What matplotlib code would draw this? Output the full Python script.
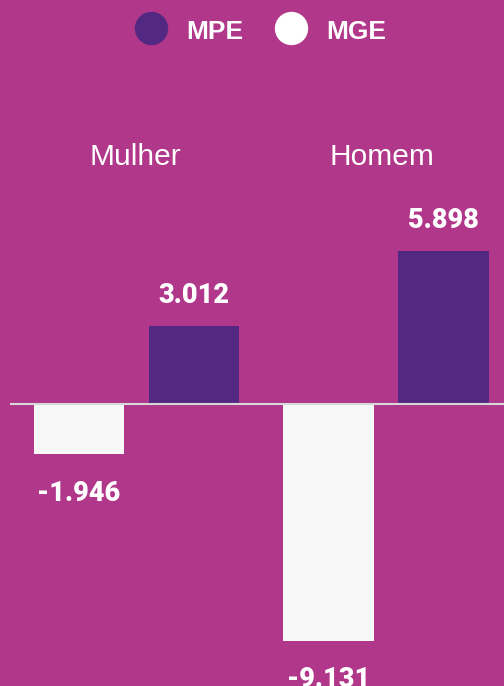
import numpy as np
import matplotlib.pyplot as plt
from matplotlib.lines import Line2D

# dados
categorias = ['Mulher', 'Homem']
series = ['MPE', 'MGE']
mpe = [3.012, 5.898]
mge = [-1.946, -9.131]

fundo = '#B0378A'
roxo = '#532883'
branco = '#F8F8F8'

fig = plt.figure(figsize=(5.04, 6.86), dpi=100)
fig.patch.set_facecolor(fundo)
ax = fig.add_axes([0, 0, 1, 1])
ax.set_facecolor(fundo)

x = np.arange(len(categorias))
larg = 0.361
desl = 0.2305

b_mge = ax.bar(x - desl, mge, larg, color=branco, zorder=2)
b_mpe = ax.bar(x + desl, mpe, larg, color=roxo, zorder=2)

ax.set_xlim(-0.547, 1.473)
ax.set_ylim(-10.87, 15.57)
ax.axhline(0, xmin=11/504, xmax=1, color='#D8D8D8', lw=1.5, zorder=3)

def fmt(v):
    return ('-' if v < 0 else '') + '{:.3f}'.format(abs(v))

for barras, vals in [(b_mge, mge), (b_mpe, mpe)]:
    for b, v in zip(barras, vals):
        cx = b.get_x() + b.get_width() / 2
        off = 22 if v > 0 else -28
        ax.annotate(fmt(v), (cx, v), xytext=(0, off), textcoords='offset points',
                    ha='center', va='center', color='white', fontsize=19.5,
                    fontweight='black', family='Roboto')

# rótulos das categorias
for i, c in enumerate(categorias):
    ax.text(i - 0.004 - 0.012 * i, 9.52, c, ha='center', va='center', color='white',
            fontsize=21.5, family='Liberation Sans')

ax.axis('off')

# legenda
H = 686.0
W = 504.0
for px, txt_x, cor, nome in [(151, 186, roxo, series[0]), (291, 326, 'white', series[1])]:
    fig.add_artist(Line2D([px / W], [1 - 28 / H], marker='o', markersize=24,
                          color=cor, markeredgewidth=0, transform=fig.transFigure))
    fig.text(txt_x / W, 1 - 32 / H, nome, ha='left', va='center', color='white',
             fontsize=19, fontweight='bold', family='Liberation Sans')

fig.savefig('out.png', dpi=100, facecolor=fundo)
